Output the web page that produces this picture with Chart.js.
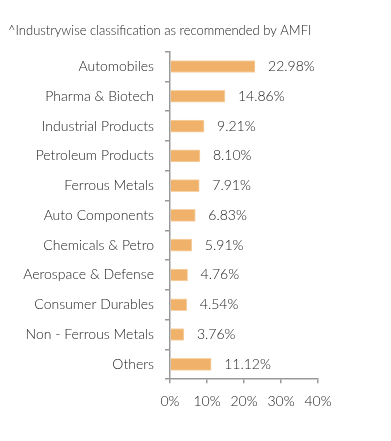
<!DOCTYPE html>
<html><head><meta charset="utf-8">
<script src="https://cdn.jsdelivr.net/npm/chart.js@4"></script>
<style>html,body{margin:0;padding:0;background:#fff}#wrap{width:391px;height:441px}</style>
</head><body><div id="wrap"><canvas id="c" width="391" height="441"></canvas></div>
<script>
const categories = ["Automobiles","Pharma & Biotech","Industrial Products","Petroleum Products","Ferrous Metals","Auto Components","Chemicals & Petro","Aerospace & Defense","Consumer Durables","Non - Ferrous Metals","Others"];
const values = [22.98,14.86,9.21,8.10,7.91,6.83,5.91,4.76,4.54,3.76,11.12];
const xTicks = [0,10,20,30,40];
const titleText = "^Industrywise classification as recommended by AMFI";

const valueLabels = {
  id:'valueLabels',
  afterDatasetsDraw(chart){
    const ctx = chart.ctx;
    const meta = chart.getDatasetMeta(0);
    ctx.save();
    ctx.font = '300 14px Lato';
    ctx.fillStyle = '#222';
    ctx.textAlign = 'left';
    ctx.textBaseline = 'middle';
    meta.data.forEach((bar,i)=>{
      ctx.fillText(values[i].toFixed(2)+'%', bar.x + 13, bar.y);
    });
    ctx.restore();
  }
};

new Chart(document.getElementById('c'), {
  type:'bar',
  data:{labels:categories, datasets:[{data:values, backgroundColor:'#F0B26B', borderColor:'#F6D2A6', borderWidth:1, borderSkipped:'left', barThickness:12}]},
  options:{
    indexAxis:'y', responsive:false, animation:false,
    layout:{padding:{left:8,right:73,top:0,bottom:21}},
    plugins:{
      legend:{display:false}, tooltip:{enabled:false},
      title:{display:true, text:titleText, align:'start', color:'#222', font:{family:'Lato', size:13, weight:'300'}, padding:{top:23,bottom:13}}
    },
    scales:{
      x:{min:0,max:40, afterBuildTicks(ax){ax.ticks = xTicks.map(v=>({value:v}));},
        ticks:{callback:v=>v+'%', color:'#222', font:{family:'Lato',size:14, weight:'300'}, padding:10, maxRotation:0},
        grid:{drawOnChartArea:false, tickLength:4, color:'#999', lineWidth:1.5},
        border:{color:'#999', width:1.5}},
      y:{afterFit(ax){ax.width=162;},
        ticks:{color:'#222', font:{family:'Lato',size:14, weight:'300'}, padding:11},
        grid:{drawOnChartArea:false, offset:true, tickLength:5, color:'#999', lineWidth:1.5},
        border:{color:'#999', width:1.5}}
    }
  },
  plugins:[valueLabels]
});
</script></body></html>
